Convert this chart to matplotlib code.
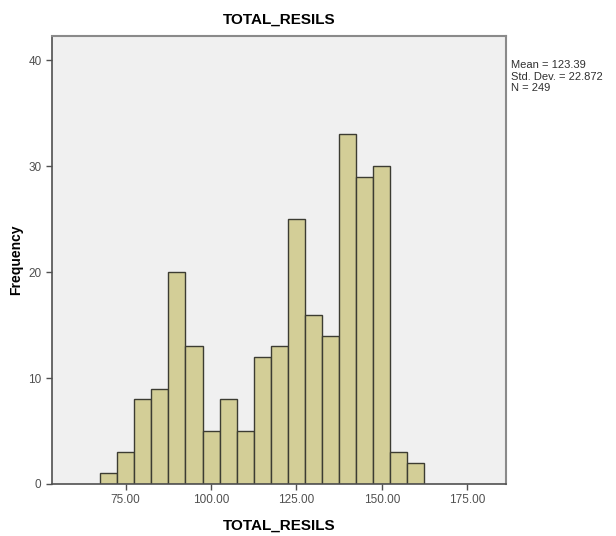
import matplotlib
matplotlib.use("Agg")
import matplotlib.pyplot as plt

# bin centres (width 5) and counts
bin_centers = [70, 75, 80, 85, 90, 95, 100, 105, 110, 115,
               120, 125, 130, 135, 140, 145, 150, 155, 160]
counts = [1, 3, 8, 9, 20, 13, 5, 8, 5, 12,
          13, 25, 16, 14, 33, 29, 30, 3, 2]
x_ticks = [75, 100, 125, 150, 175]
y_ticks = [0, 10, 20, 30, 40]
stats_lines = ["Mean = 123.39", "Std. Dev. = 22.872", "N = 249"]

plt.rcParams['font.family'] = ['Liberation Sans', 'DejaVu Sans']

fig = plt.figure(figsize=(6.16, 5.36), dpi=100)
ax = fig.add_axes([52 / 616, 52 / 536, 454 / 616, 448 / 536])
ax.set_facecolor('#f0f0f0')

ax.bar(bin_centers, counts, width=5, color='#d3ce97',
       edgecolor='#3c3c32', linewidth=1.0, zorder=2)

ax.set_xlim(53.4, 186.4)
ax.set_ylim(0, 42.3)
ax.set_xticks(x_ticks)
ax.set_xticklabels([f"{v:.2f}" for v in x_ticks])
ax.set_yticks(y_ticks)
ax.tick_params(axis='both', labelsize=8.5, labelcolor='#505050',
               color='#505050', length=4, width=1)

for side in ['top', 'right']:
    ax.spines[side].set_color('#8a8a8a')
    ax.spines[side].set_linewidth(1.5)
for side in ['left', 'bottom']:
    ax.spines[side].set_color('#505050')
    ax.spines[side].set_linewidth(1.2)

ax.set_xlabel('TOTAL_RESILS', fontsize=11, fontweight='bold', labelpad=9)
ax.set_ylabel('Frequency', fontsize=10, fontweight='bold', labelpad=4)
ax.set_title('TOTAL_RESILS', fontsize=11, fontweight='bold', pad=9)

fig.text(511 / 616, 1 - 60 / 536, "\n".join(stats_lines), fontsize=8,
         color='#303030', va='top', ha='left', linespacing=1.2)

fig.savefig('out.png', dpi=100, facecolor='white')
